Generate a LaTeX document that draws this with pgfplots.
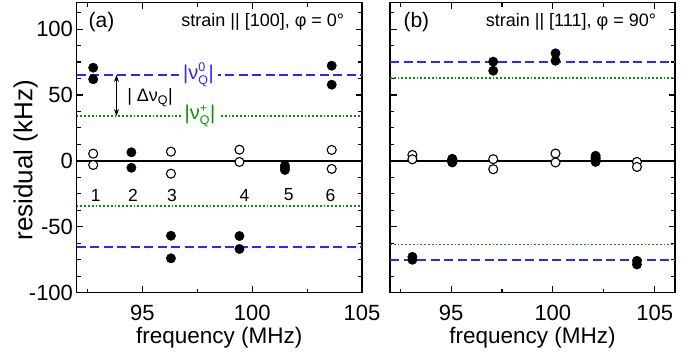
\documentclass[border=0pt]{standalone}
\usepackage{fontspec}
\setmainfont{Liberation Sans}
\usepackage{pgfplots}
\pgfplotsset{compat=1.18}
\usetikzlibrary{arrows.meta}
\definecolor{myblue}{RGB}{40,40,255}
\definecolor{mygreen}{RGB}{0,150,0}
\newcommand{\sm}[1]{\mbox{\fontsize{12.5}{12.5}\selectfont #1}}
\tikzset{num/.style={font=\fontsize{17.5}{17.5}\selectfont}}
\pgfplotsset{
  myaxis/.style={
    scale only axis, height=290pt,
    ymin=-100, ymax=120, xmin=92,
    xtick={95,100,105}, ytick={-100,-50,0,50,100},
    minor xtick={92.5,97.5,102.5},
    minor ytick={-87.5,-75,-62.5,-37.5,-25,-12.5,12.5,25,37.5,62.5,75,87.5,112.5},
    tick align=inside, major tick length=6.5pt, minor tick length=4pt,
    axis line style={line width=1.5pt},
    every tick/.style={line width=1.1pt, black},
    /pgf/number format/assume math mode=true,
    tick label style={font=\fontsize{22}{22}\selectfont},
    xticklabel style={yshift=-9pt},
    xlabel style={at={(axis description cs:0.5,-0.174)}, anchor=base, font=\fontsize{22.5}{22.5}\selectfont},
    xlabel={frequency (MHz)},
  },
  bl/.style={myblue, line width=1.4pt, dash pattern=on 9pt off 4.5pt},
  gr/.style={mygreen, line width=1.5pt, dash pattern=on 1.8pt off 2pt},
  full/.style={only marks, mark=*, mark size=4.7pt, mark options={fill=black, draw=black}},
  open/.style={only marks, mark=*, mark size=4.5pt, mark options={fill=white, draw=black, line width=1.1pt}},
}
\begin{document}
\begin{tikzpicture}
\path[use as bounding box] (0,0) rectangle (700pt,356pt);
% ---------- panel (a)
\begin{axis}[myaxis, at={(76.5pt,63.3pt)}, anchor=south west, width=285.5pt, xmax=105,
  ylabel={residual (kHz)},
  ylabel style={at={(axis description cs:-0.1548,0.456)}, anchor=base, font=\fontsize{26}{26}\selectfont}]
\addplot[black, line width=1.5pt] coordinates {(92,0) (105,0)};
\addplot[bl] coordinates {(92,65.2) (105,65.2)};
\addplot[bl] coordinates {(92,-65.4) (105,-65.4)};
\addplot[gr] coordinates {(92,34) (105,34)};
\addplot[gr] coordinates {(92,-34.2) (105,-34.2)};
\addplot[open] coordinates {
 (92.76,5.5) (92.76,-3.1)
 (96.30,7.0) (96.30,-9.7)
 (99.42,8.5) (99.42,-0.8)
 (103.62,8.3) (103.62,-6.1)};
\addplot[full] coordinates {
 (92.76,70.7) (92.76,61.9)
 (94.50,6.5) (94.50,-5.2)
 (96.30,-56.8) (96.30,-73.9)
 (99.42,-57.0) (99.42,-66.8)
 (101.49,-3.5) (101.49,-5.2) (101.49,-6.9)
 (103.62,72.2) (103.62,57.8)};
\node[anchor=west, font=\fontsize{21}{21}\selectfont] at (axis cs:92.39,105.4) {(a)};
\node[anchor=east, font=\fontsize{18}{18}\selectfont] at (axis cs:104.35,105.4) {strain || [100], φ = 0°};
\node[fill=white, inner xsep=4pt, inner ysep=0pt, text=myblue, font=\fontsize{20}{20}\selectfont] at (axis cs:97.55,65.2) {|ν$^{\sm{0}}_{\sm{Q}}$|};
\node[fill=white, inner xsep=4pt, inner ysep=0pt, text=mygreen, font=\fontsize{20}{20}\selectfont] at (axis cs:97.62,34) {|ν$^{\sm{+}}_{\sm{Q}}$|};
\draw[{Stealth[length=7pt,width=5pt]}-{Stealth[length=7pt,width=5pt]}, line width=1pt] (axis cs:93.82,65.2) -- (axis cs:93.82,34);
\node[anchor=west, font=\fontsize{18}{18}\selectfont] at (axis cs:94.15,47.7) {| Δν$_{\sm{Q}}$|};
\node[num] at (axis cs:92.88,-25.9) {1};
\node[num] at (axis cs:94.57,-25.9) {2};
\node[num] at (axis cs:96.35,-25.9) {3};
\node[num] at (axis cs:99.65,-25.9) {4};
\node[num] at (axis cs:101.66,-25.9) {5};
\node[num] at (axis cs:103.56,-25.9) {6};
\end{axis}
% ---------- panel (b)
\begin{axis}[myaxis, at={(390pt,63.3pt)}, anchor=south west, width=285pt, xmax=106,
  yticklabels={}]
\addplot[black, line width=1.5pt] coordinates {(92,0) (106,0)};
\addplot[bl] coordinates {(92,75) (106,75)};
\addplot[bl] coordinates {(92,-75.3) (106,-75.3)};
\addplot[gr] coordinates {(92,63) (106,63)};
\addplot[gr] coordinates {(92,-63.5) (106,-63.5)};
\addplot[open] coordinates {
 (93.10,4.5) (93.10,1.2)
 (95.06,1.0) (95.06,-0.8)
 (97.07,1.3) (97.07,-6.3)
 (100.13,5.6) (100.13,-1.2)
 (102.10,2.5) (102.10,0.2)
 (104.13,-0.8) (104.13,-4.6)};
\addplot[full] coordinates {
 (93.10,-72.8) (93.10,-75.0)
 (95.06,1.6) (95.06,-1.2)
 (97.07,75.3) (97.07,68.4)
 (100.13,81.6) (100.13,76.0)
 (102.10,3.9) (102.10,1.5) (102.10,-0.8)
 (104.13,-75.8) (104.13,-78.6)};
\node[anchor=west, font=\fontsize{21}{21}\selectfont] at (axis cs:92.49,105.4) {(b)};
\node[anchor=east, font=\fontsize{18}{18}\selectfont] at (axis cs:105.24,105.4) {strain || [111], φ = 90°};
\end{axis}
\end{tikzpicture}
\end{document}
